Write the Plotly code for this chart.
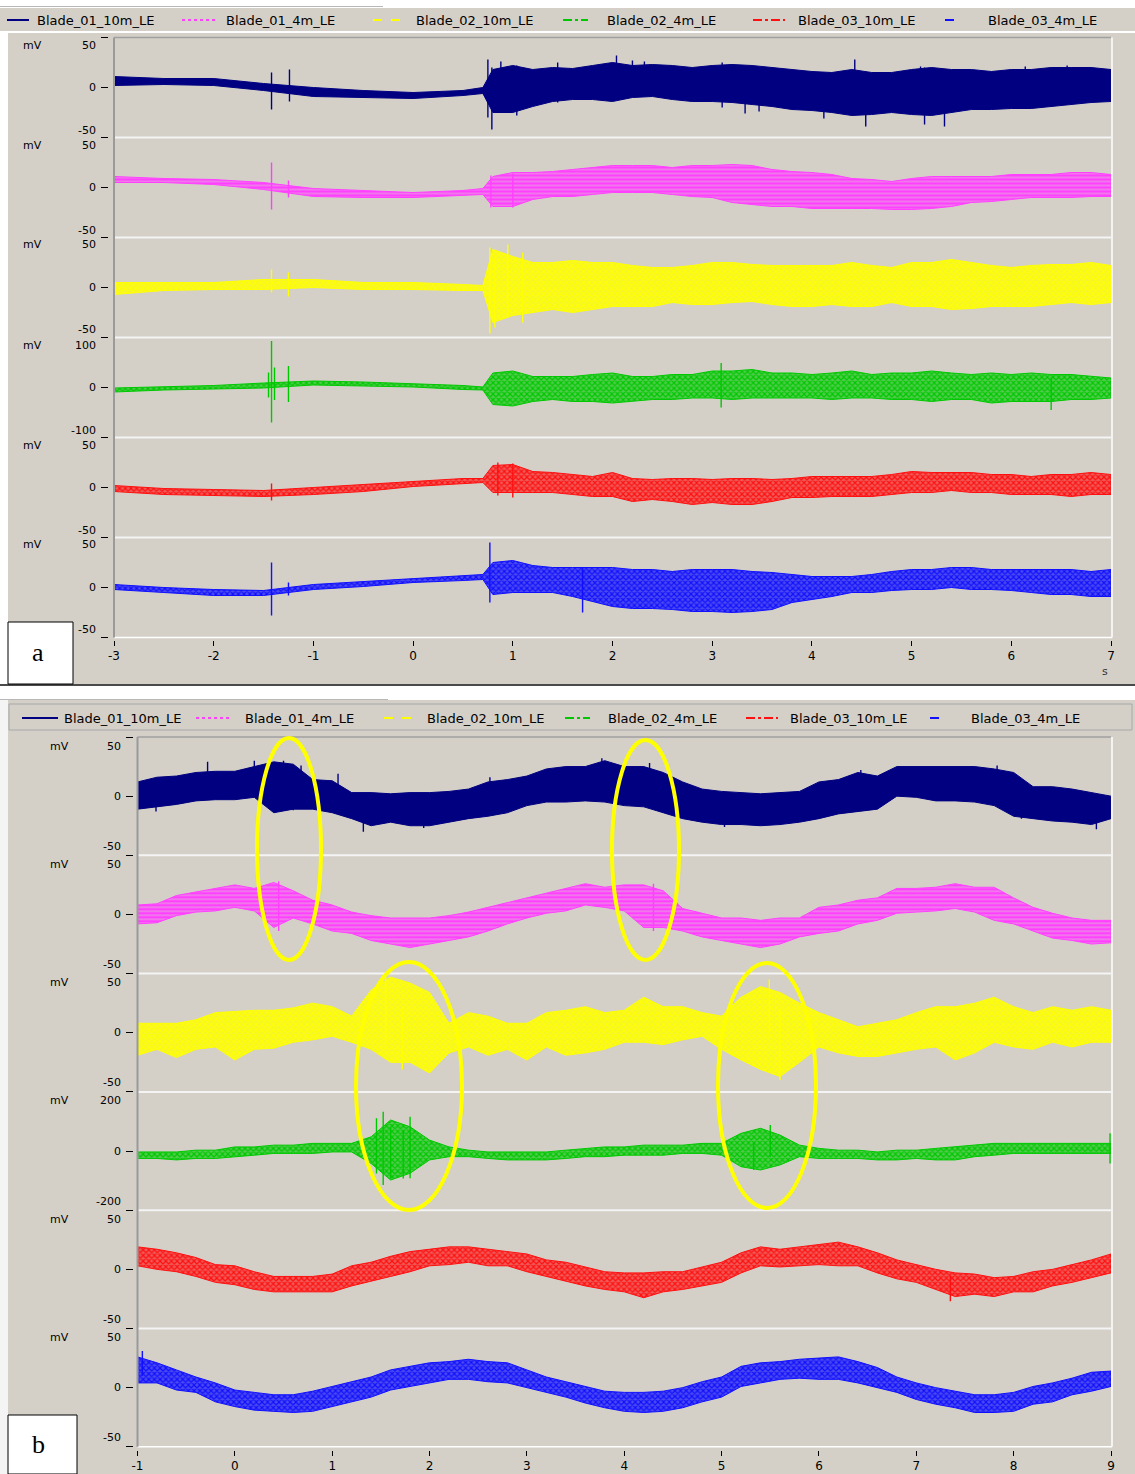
import plotly.graph_objects as go

W, H = 1135, 1474


def PX(x):
    return x / W


def PY(y):
    return 1 - y / H


NAMES = ["Blade_01_10m_LE", "Blade_01_4m_LE", "Blade_02_10m_LE",
         "Blade_02_4m_LE", "Blade_03_10m_LE", "Blade_03_4m_LE"]
COLORS = ["#000080", "#ff40ff", "#ffff00", "#00c800", "#ff1010", "#1010ff"]
PAT_BG = [None, "rgba(255,64,255,0.62)", "rgba(255,255,0,0.78)",
          "rgba(0,200,0,0.62)", "rgba(255,16,16,0.62)", "rgba(16,16,255,0.70)"]
PAT_SHAPE = [None, "-", "x", "x", "x", "x"]
LEG_DASH = ["solid", "dot", "dash", "dashdot", "dashdot", "dash"]
GRAY = "#d4d0c8"

# ---------------- panel a : time grid (s) and envelopes (mV) ----------------
TA = [-3.0, -2.5, -2.0, -1.5, -1.0, -0.5, 0.0, 0.5, 0.7, 0.8, 1.0, 1.2, 1.4, 1.6, 1.8,
      2.0, 2.2, 2.4, 2.6, 2.8, 3.0, 3.2, 3.4, 3.6, 3.8, 4.0, 4.2, 4.4, 4.6, 4.8,
      5.0, 5.2, 5.4, 5.6, 5.8, 6.0, 6.2, 6.4, 6.6, 6.8, 7.0]
A_TICKS = [-3, -2, -1, 0, 1, 2, 3, 4, 5, 6, 7]
A_LIM = [50, 50, 50, 100, 50, 50]

a1_hi = [11, 9, 9, 4, 0, -3, -5, -3, 0, 18, 22, 18, 20, 19, 22, 25, 22, 23, 22, 20, 22, 23, 22, 20, 18,
         16, 15, 18, 15, 15, 18, 20, 18, 18, 16, 18, 18, 20, 20, 20, 18]
a1_lo = [2, 3, 2, -3, -9, -10, -11, -8, -6, -25, -25, -19, -14, -12, -12, -14, -10, -9, -12, -14, -14, -15,
         -17, -19, -22, -23, -25, -28, -27, -25, -27, -28, -25, -22, -22, -21, -21, -19, -17, -15, -14]
a1_sp_t = [-1.42, -1.24, 0.75, 0.79, 0.88, 1.04, 1.45, 2.04, 2.2, 2.32, 3.1, 3.33, 3.47, 4.12, 4.43,
           4.54, 5.09, 5.13, 5.33, 6.14, 6.56]
a1_sp_hi = [15, 18, 28, 20, 26, 22, 25, 32, 27, 26, 25, 10, 10, 5, 28, 15, 21, 20, 18, 21, 22]
a1_sp_lo = [-22, -14, -30, -42, -25, -28, -15, -12, -5, -5, -20, -26, -24, -31, -15, -39, -10, -37, -39,
            -10, -10]

a2_hi = [11, 9, 8, 5, -1, -3, -5, -3, -1, 11, 15, 15, 16, 18, 20, 22, 22, 22, 20, 22, 22, 23, 22, 18, 16,
         15, 13, 9, 8, 6, 9, 11, 11, 11, 11, 13, 13, 13, 15, 15, 13]
a2_lo = [5, 5, 3, -2, -9, -10, -10, -8, -7, -19, -19, -12, -9, -9, -7, -5, -5, -5, -7, -9, -10, -15, -17,
         -19, -19, -21, -21, -21, -21, -22, -22, -21, -19, -15, -14, -12, -10, -10, -10, -9, -9]
a2_sp_t = [-1.42, -1.25, 0.78, 1.0]
a2_sp_hi = [25, 7, 12, 14]
a2_sp_lo = [-22, -10, -20, -20]

a3_hi = [5, 5, 5, 8, 8, 5, 5, 3, 2, 38, 31, 25, 25, 27, 25, 25, 22, 20, 20, 22, 25, 25, 23, 22, 22,
         22, 22, 25, 22, 20, 25, 25, 28, 25, 22, 20, 22, 23, 23, 25, 22]
a3_lo = [-7, -3, -2, -2, 0, -2, -2, -3, -3, -35, -28, -25, -22, -25, -22, -19, -19, -19, -15, -17, -17, -15,
         -14, -17, -19, -19, -17, -19, -19, -15, -19, -19, -22, -21, -19, -19, -19, -17, -15, -17, -15]
a3_sp_t = [-1.42, -1.25, 0.77, 0.82, 0.95, 1.1]
a3_sp_hi = [18, 15, 40, 30, 43, 35]
a3_sp_lo = [-5, -9, -46, -40, -30, -35]

a4_hi = [-1, 1, 4, 9, 13, 11, 8, 4, 1, 29, 33, 22, 22, 22, 26, 29, 22, 22, 26, 26, 33, 33, 36, 29, 29,
         26, 29, 33, 26, 29, 29, 33, 29, 26, 29, 26, 29, 26, 26, 22, 19]
a4_lo = [-9, -5, -3, -1, 5, 3, 1, -4, -5, -34, -37, -28, -24, -28, -28, -31, -28, -24, -24, -21, -21, -24,
         -21, -21, -21, -21, -24, -21, -21, -24, -24, -28, -24, -24, -31, -28, -28, -28, -24, -24, -21]
a4_sp_t = [-1.45, -1.42, -1.39, -1.25, 3.09, 6.4]
a4_sp_hi = [30, 93, 40, 43, 49, 20]
a4_sp_lo = [-20, -70, -25, -29, -40, -45]

a5_hi = [2, -1, -2, -3, 0, 3, 6, 9, 9, 22, 23, 16, 15, 13, 11, 15, 9, 8, 9, 9, 8, 9, 9, 8, 9,
         11, 11, 11, 11, 13, 16, 15, 15, 15, 13, 13, 11, 13, 13, 15, 13]
a5_lo = [-4, -7, -8, -9, -7, -4, 1, 4, 5, -5, -5, -5, -5, -7, -9, -9, -14, -12, -14, -17, -15, -17, -17,
         -14, -10, -10, -9, -9, -9, -7, -5, -5, -3, -5, -5, -7, -7, -7, -9, -7, -7]
a5_sp_t = [-1.42, 0.85, 1.0]
a5_sp_hi = [4, 25, 24]
a5_sp_lo = [-13, -8, -10]

a6_hi = [3, 0, -2, -3, 3, 6, 9, 12, 13, 25, 27, 22, 20, 20, 20, 20, 18, 18, 16, 18, 18, 18, 16, 15, 13,
         11, 11, 11, 13, 16, 18, 18, 20, 20, 18, 18, 18, 18, 18, 16, 18]
a6_lo = [-2, -5, -8, -8, -2, 1, 5, 7, 8, -7, -5, -5, -5, -9, -14, -19, -21, -21, -22, -24, -24, -25, -24,
         -22, -15, -12, -9, -5, -5, -3, -2, -2, 0, -2, -2, -3, -5, -7, -7, -9, -9]
a6_sp_t = [-1.42, -1.25, 0.77, 1.7]
a6_sp_hi = [25, 5, 45, 20]
a6_sp_lo = [-28, -8, -15, -25]

# ---------------- panel b ----------------
TB = [-1.0, -0.8, -0.6, -0.4, -0.2, 0.0, 0.2, 0.4, 0.6, 0.8, 1.0, 1.2, 1.4, 1.6, 1.8, 2.0, 2.2, 2.4,
      2.6, 2.8, 3.0, 3.2, 3.4, 3.6, 3.8, 4.0, 4.2, 4.4, 4.6, 4.8, 5.0, 5.2, 5.4, 5.6, 5.8, 6.0, 6.2,
      6.4, 6.6, 6.8, 7.0, 7.2, 7.4, 7.6, 7.8, 8.0, 8.2, 8.4, 8.6, 8.8, 9.0]
B_TICKS = [-1, 0, 1, 2, 3, 4, 5, 6, 7, 8, 9]
B_LIM = [50, 50, 50, 200, 50, 50]

b1_hi = [12, 16, 17, 20, 21, 21, 25, 29, 27, 14, 13, 3, 3, 2, 3, 3, 4, 6, 12, 14, 17, 23, 25, 25, 30, 25,
         25, 20, 12, 6, 4, 3, 2, 3, 4, 12, 14, 20, 17, 25, 25, 25, 25, 25, 23, 20, 8, 8, 6, 3, 0]
b1_lo = [-11, -9, -7, -4, -3, -3, -1, -14, -11, -11, -14, -19, -25, -22, -25, -25, -22, -19, -17, -14, -8,
         -5, -5, -4, -5, -8, -9, -14, -19, -22, -24, -24, -25, -24, -22, -19, -15, -13, -11, 0, -1, -4,
         -4, -5, -8, -17, -19, -21, -22, -24, -19]
b1_sp_t = [-0.81, -0.28, 0.2, 0.5, 0.6, 0.68, 1.06, 1.32, 1.94, 2.62, 2.76, 3.17, 3.77, 4.26, 5.03,
           6.43, 7.83, 8.08, 8.85]
b1_sp_hi = [10, 29, 30, 30, 20, 26, 19, 0, 0, 16, 8, 21, 32, 28, 0, 22, 26, 12, 0]
b1_sp_lo = [-13, -3, -1, -10, -12, -8, -10, -30, -27, -12, -15, -4, -4, -8, -26, -8, 0, -19, -28]

b2_hi = [8, 9, 16, 19, 22, 25, 22, 27, 20, 12, 8, 2, -1, -3, -3, -3, -1, 2, 6, 10, 14, 18, 22, 26, 23, 25,
         25, 20, 5, 1, -3, -3, -5, -3, -3, 6, 8, 12, 14, 22, 22, 23, 26, 23, 23, 14, 6, 1, -3, -5, -5]
b2_lo = [-8, -7, -1, 2, 3, 6, 3, -11, -3, -8, -14, -16, -22, -25, -28, -25, -22, -19, -14, -8, -3, 1, 3,
         8, 6, 3, -11, -11, -14, -19, -22, -25, -28, -25, -19, -16, -14, -8, -5, 1, 2, 3, 5, 2, -5, -8,
         -14, -20, -22, -25, -24]
b2_sp_t = [0.45, 4.3]
b2_sp_hi = [28, 26]
b2_sp_lo = [-14, -14]

b3_hi = [8, 8, 8, 11, 17, 18, 19, 19, 21, 25, 22, 14, 36, 47, 42, 34, 8, 17, 14, 8, 8, 17, 19, 22, 17, 19,
         30, 22, 22, 17, 14, 30, 39, 34, 25, 17, 11, 5, 8, 11, 17, 22, 22, 25, 30, 22, 17, 22, 19, 22, 19]
b3_lo = [-19, -14, -21, -14, -12, -23, -14, -13, -8, -6, -3, -8, -14, -25, -25, -34, -17, -12, -19, -14,
         -23, -12, -19, -17, -14, -8, -8, -10, -6, -3, -14, -23, -31, -37, -25, -12, -17, -20, -20, -17,
         -14, -12, -23, -17, -8, -12, -14, -8, -12, -8, -8]
b3_sp_t = [1.55, 1.72, 5.49, 5.6]
b3_sp_hi = [47, 20, 45, 20]
b3_sp_lo = [-10, -31, -5, -40]

b4_hi = [-3, -3, -3, 3, 3, 14, 14, 20, 20, 26, 26, 26, 48, 105, 82, 37, 14, 3, -3, -3, -3, -3, 3, 9, 14,
         14, 20, 20, 20, 26, 26, 60, 77, 54, 20, 9, 3, 3, -3, 3, 3, 9, 14, 20, 26, 26, 26, 26, 26, 26, 26]
b4_lo = [-25, -25, -30, -25, -25, -19, -14, -8, -8, -8, -3, -3, -42, -98, -75, -30, -19, -19, -25, -30,
         -30, -30, -25, -19, -19, -14, -14, -14, -8, -8, -14, -53, -64, -47, -19, -25, -25, -25, -30, -30,
         -25, -30, -30, -19, -14, -8, -8, -8, -8, -8, -8]
b4_sp_t = [1.455, 1.524, 1.6, 1.73, 1.8, 5.33, 5.5, 8.99]
b4_sp_hi = [111, 133, 80, 71, 116, 30, 88, 60]
b4_sp_lo = [-76, -115, -90, -93, -92, -64, -20, -42]

b5_hi = [19, 17, 14, 10, 4, 3, -2, -6, -6, -6, -4, 3, 6, 11, 15, 17, 19, 19, 17, 15, 13, 8, 6, 2, -2, -3,
         -3, -2, -2, 2, 6, 14, 19, 17, 19, 21, 23, 19, 14, 8, 4, 0, -3, -4, -7, -6, -2, 0, 4, 8, 13]
b5_lo = [3, 0, -2, -6, -11, -13, -17, -19, -19, -19, -19, -14, -10, -6, -2, 3, 4, 6, 3, 3, -2, -6, -10,
         -14, -17, -19, -24, -19, -17, -14, -11, -3, 3, 2, 3, 4, 3, 3, -3, -8, -11, -17, -23, -21, -23,
         -19, -19, -14, -11, -7, -3]
b5_sp_t = [7.35]
b5_sp_hi = [-5]
b5_sp_lo = [-27]

b6_hi = [26, 21, 15, 9, 4, -2, -4, -6, -6, -3, 1, 5, 9, 15, 18, 21, 22, 24, 22, 21, 15, 9, 5, 1, -3, -4,
         -4, -3, 0, 5, 9, 18, 21, 22, 24, 25, 26, 22, 17, 9, 4, 0, -3, -6, -6, -4, 1, 4, 8, 13, 14]
b6_lo = [4, 4, -2, -4, -12, -16, -19, -20, -21, -20, -16, -12, -8, -2, 1, 4, 7, 7, 5, 4, 0, -4, -8, -13,
         -17, -20, -21, -20, -17, -12, -8, 1, 4, 7, 8, 7, 7, 4, 0, -4, -10, -14, -17, -21, -21, -20, -14,
         -12, -6, -3, 1]
b6_sp_t = [-0.95]
b6_sp_hi = [31]
b6_sp_lo = [10]

A_ROWS = [(a1_hi, a1_lo, a1_sp_t, a1_sp_hi, a1_sp_lo), (a2_hi, a2_lo, a2_sp_t, a2_sp_hi, a2_sp_lo),
          (a3_hi, a3_lo, a3_sp_t, a3_sp_hi, a3_sp_lo), (a4_hi, a4_lo, a4_sp_t, a4_sp_hi, a4_sp_lo),
          (a5_hi, a5_lo, a5_sp_t, a5_sp_hi, a5_sp_lo), (a6_hi, a6_lo, a6_sp_t, a6_sp_hi, a6_sp_lo)]
B_ROWS = [(b1_hi, b1_lo, b1_sp_t, b1_sp_hi, b1_sp_lo), (b2_hi, b2_lo, b2_sp_t, b2_sp_hi, b2_sp_lo),
          (b3_hi, b3_lo, b3_sp_t, b3_sp_hi, b3_sp_lo), (b4_hi, b4_lo, b4_sp_t, b4_sp_hi, b4_sp_lo),
          (b5_hi, b5_lo, b5_sp_t, b5_sp_hi, b5_sp_lo), (b6_hi, b6_lo, b6_sp_t, b6_sp_hi, b6_sp_lo)]

# ---------------- geometry (pixels) ----------------
A_X0, A_X1 = 114, 1111
A_TOP, A_ROWH = 37.5, 100.0
B_X0, B_X1 = 137.5, 1111
B_TOP, B_ROWH = 737.0, 118.3

fig = go.Figure()
shapes = []
annos = []
FONT = "DejaVu Sans"


def band(t, hi, lo, k, xa, ya):
    d = dict(x=list(t) + list(t)[::-1], y=list(hi) + list(lo)[::-1], mode="lines",
             fill="toself", line=dict(color=COLORS[k], width=1),
             xaxis=xa, yaxis=ya, hoverinfo="skip", showlegend=False)
    if PAT_SHAPE[k] is None:
        d["fillcolor"] = COLORS[k]
    else:
        d["fillcolor"] = PAT_BG[k]
        d["fillpattern"] = dict(shape=PAT_SHAPE[k], fgcolor=COLORS[k], bgcolor=PAT_BG[k],
                                size=4, solidity=0.5, fillmode="replace")
    return go.Scatter(**d)


def spikes(t, hi, lo, k, xa, ya):
    xs, ys = [], []
    for tt, h, l in zip(t, hi, lo):
        xs += [tt, tt, None]
        ys += [l, h, None]
    return go.Scatter(x=xs, y=ys, mode="lines", line=dict(color=COLORS[k], width=1.4),
                      xaxis=xa, yaxis=ya, hoverinfo="skip", showlegend=False)


def note(text, x, y, xanchor="center", size=11, family=FONT, color="black"):
    annos.append(dict(text=text, x=PX(x), y=PY(y), xref="paper", yref="paper", xanchor=xanchor,
                      yanchor="middle", showarrow=False,
                      font=dict(family=family, size=size, color=color)))


layout = dict(width=W, height=H, margin=dict(l=0, r=0, t=0, b=0, autoexpand=False),
              paper_bgcolor="white", plot_bgcolor="rgba(0,0,0,0)", showlegend=False)


def xaxis_def(x0, x1, rng, ticks, ypos):
    return dict(domain=[PX(x0), PX(x1)], range=rng, anchor="free", position=PY(ypos),
                tickvals=ticks, ticktext=[str(v) for v in ticks], ticks="outside", ticklen=5,
                tickcolor="black", tickwidth=1, showline=False, showgrid=False, zeroline=False,
                automargin=False, tickfont=dict(family=FONT, size=12, color="black"),
                fixedrange=True)


layout["xaxis"] = xaxis_def(A_X0, A_X1, [-3, 7], A_TICKS, 640)
layout["xaxis2"] = xaxis_def(B_X0, B_X1, [-1, 9], B_TICKS, 1450)


def add_panel(rows, t, lims, x_ref, top, rowh, ax_offset, tickpos, lab_right, mv_x, lab_off):
    for i, (hi, lo, st, shi, slo) in enumerate(rows):
        ai = ax_offset + i + 1
        yname = "yaxis" if ai == 1 else "yaxis%d" % ai
        yref = "y" if ai == 1 else "y%d" % ai
        rt = top + i * rowh
        rb = rt + rowh
        lim = lims[i]
        layout[yname] = dict(domain=[PY(rb), PY(rt)], range=[-lim, lim], anchor="free",
                             position=PX(tickpos), side="left", tickvals=[-lim, 0, lim],
                             showticklabels=False, ticks="outside", ticklen=7, tickcolor="black",
                             tickwidth=1, showline=False, showgrid=False, zeroline=False,
                             automargin=False, fixedrange=True)
        fig.add_trace(band(t, hi, lo, i, x_ref, yref))
        fig.add_trace(spikes(st, shi, slo, i, x_ref, yref))
        note("mV", mv_x, rt + lab_off)
        note(str(lim), lab_right, rt + lab_off, "right")
        note("0", lab_right, (rt + rb) / 2, "right")
        note("-" + str(lim), lab_right, rb - lab_off, "right")


def rect(x0, y0, x1, y1, fill, line=None, lw=0, layer="below"):
    shapes.append(dict(type="rect", xref="paper", yref="paper", x0=PX(x0), x1=PX(x1), y0=PY(y1),
                       y1=PY(y0), fillcolor=fill, layer=layer,
                       line=dict(width=lw, color=line or fill)))


def hline(x0, x1, y, color, w=1, dash="solid", layer="above"):
    shapes.append(dict(type="line", xref="paper", yref="paper", x0=PX(x0), x1=PX(x1), y0=PY(y),
                       y1=PY(y), line=dict(color=color, width=w, dash=dash), layer=layer))


def vline(x, y0, y1, color, w=1, layer="above"):
    shapes.append(dict(type="line", xref="paper", yref="paper", x0=PX(x), x1=PX(x), y0=PY(y0),
                       y1=PY(y1), line=dict(color=color, width=w), layer=layer))


# backgrounds
rect(0, 8, W, 31, GRAY)
hline(0, 383, 6.5, "#b8b8b8", 1, layer="below")
rect(8, 33, W, 684, GRAY)
hline(0, W, 685, "#4a4a4a", 2, layer="below")
rect(0, 700, W, H, GRAY)
rect(0, 700, 8, H, "#f4f4f4")
hline(0, 388, 699.5, "#b8b8b8", 1, layer="below")
rect(9, 704, 1132, 730, GRAY, line="#a8a8a8", lw=1)

# frames panel a
hline(A_X0, A_X1, A_TOP, "#a0a0a0", 1.5)
for i in range(1, 6):
    hline(A_X0, A_X1, A_TOP + i * A_ROWH, "#f4f4f4", 2)
hline(A_X0, A_X1 + 1, A_TOP + 6 * A_ROWH, "#ffffff", 1.5)
vline(A_X0, A_TOP, A_TOP + 6 * A_ROWH, "#9a9a9a", 2)
vline(A_X1 + 1, A_TOP, A_TOP + 6 * A_ROWH, "#ffffff", 1.5)
# frames panel b
hline(B_X0, B_X1, B_TOP, "#a0a0a0", 1.5)
for i in range(1, 6):
    hline(B_X0, B_X1, B_TOP + i * B_ROWH, "#f4f4f4", 2)
hline(B_X0, B_X1 + 1, B_TOP + 6 * B_ROWH, "#ffffff", 1.5)
vline(B_X0, B_TOP, B_TOP + 6 * B_ROWH, "#9a9a9a", 2)
vline(B_X1 + 1, B_TOP, B_TOP + 6 * B_ROWH, "#ffffff", 1.5)

add_panel(A_ROWS, TA, A_LIM, "x", A_TOP, A_ROWH, 0, 108, 98, 32, 7.5)
add_panel(B_ROWS, TB, B_LIM, "x2", B_TOP, B_ROWH, 6, 133, 123, 59, 9)

note("s", 1105, 672, color="#333333")

# legends
LEG_A_SAMPLE = [(7, 29), (182, 215), (373, 405), (563, 588), (753, 785), (945, 963)]
LEG_A_TEXT = [35, 224, 414, 605, 796, 986]
LEG_B_SAMPLE = [(22, 58), (196, 232), (384, 413), (565, 590), (746, 778), (930, 947)]
LEG_B_TEXT = [62, 243, 425, 606, 788, 969]
for samples, texts, yc in ((LEG_A_SAMPLE, LEG_A_TEXT, 20), (LEG_B_SAMPLE, LEG_B_TEXT, 718)):
    for k in range(6):
        hline(samples[k][0], samples[k][1], yc, COLORS[k], 2, dash=LEG_DASH[k])
        note(NAMES[k], texts[k], yc, "left", size=13)

# yellow ellipses (annotation marks of panel b)
ELLIPSES = [(257, 738, 321, 960), (612, 740, 679, 960), (356, 962, 462, 1210), (718, 963, 816, 1208)]
for (x0, y0, x1, y1) in ELLIPSES:
    shapes.append(dict(type="circle", xref="paper", yref="paper", x0=PX(x0), x1=PX(x1), y0=PY(y1),
                       y1=PY(y0), line=dict(color="#ffff00", width=4), layer="above"))

# panel letters
rect(8, 622, 73, 684, "white", line="black", lw=1, layer="above")
rect(8, 1415, 77, 1474, "white", line="black", lw=1, layer="above")
note("a", 38, 652, size=26, family="Liberation Serif")
note("b", 38, 1444, size=26, family="Liberation Serif")

layout["shapes"] = shapes
layout["annotations"] = annos
fig.update_layout(**layout)
fig.write_html("out.html", config={"displayModeBar": False, "responsive": False},
               post_script="document.body.style.margin='0';document.body.style.overflow='hidden';")
